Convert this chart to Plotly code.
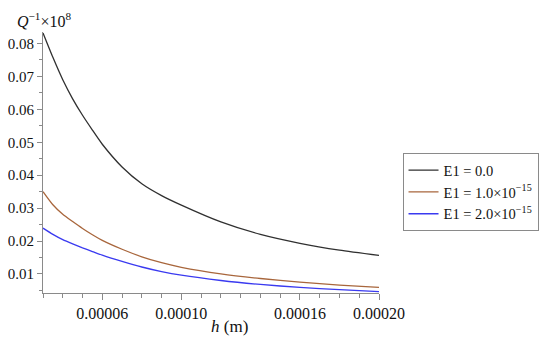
import plotly.graph_objects as go

h_vals = [3e-5, 3.5e-5, 4e-5, 4.5e-5, 5e-5, 5.5e-5, 6e-5, 7e-5, 8e-5, 9e-5, 1e-4, 1.2e-4, 1.4e-4, 1.6e-4, 1.8e-4, 2e-4]
q_e0 = [0.0832, 0.0758, 0.0690, 0.0632, 0.0582, 0.0537, 0.0494, 0.0425, 0.0374, 0.0338, 0.0309, 0.0258, 0.0220, 0.0193, 0.0172, 0.0156]
q_e1 = [0.0350, 0.0310, 0.0281, 0.0259, 0.0238, 0.0219, 0.0202, 0.0175, 0.0152, 0.0134, 0.0120, 0.0100, 0.0086, 0.0075, 0.0066, 0.0059]
q_e2 = [0.0239, 0.0220, 0.0204, 0.0191, 0.0179, 0.0168, 0.0157, 0.0138, 0.0121, 0.0107, 0.0096, 0.0080, 0.0068, 0.0059, 0.0052, 0.0046]

series_names = ["E1 = 0.0", "E1 = 1.0×10<sup>−15</sup>", "E1 = 2.0×10<sup>−15</sup>"]
series_colors = ["#303030", "#a8663c", "#3a3af0"]
x_tickvals = [0.00006, 0.00010, 0.00016, 0.00020]
x_ticktext = ["0.00006", "0.00010", "0.00016", "0.00020"]
y_tickvals = [0.01, 0.02, 0.03, 0.04, 0.05, 0.06, 0.07, 0.08]
y_ticktext = ["0.01", "0.02", "0.03", "0.04", "0.05", "0.06", "0.07", "0.08"]

FONT = "Liberation Serif, Times New Roman, serif"

fig = go.Figure()
for ys, name, col in zip([q_e0, q_e1, q_e2], series_names, series_colors):
    fig.add_trace(go.Scatter(x=h_vals, y=ys, mode="lines", name=name,
                             line=dict(color=col, width=1.3, shape="spline", smoothing=0.6)))

axis_col = "#8a8a8a"
fig.update_layout(
    width=542, height=333, autosize=False,
    margin=dict(l=35, r=171, t=24, b=48, autoexpand=False),
    paper_bgcolor="white", plot_bgcolor="white",
    font=dict(family=FONT, size=16, color="#111"),
    showlegend=True,
    legend=dict(x=1.07, y=0.536, xanchor="left", yanchor="top",
                bordercolor="#8a8a8a", borderwidth=1, bgcolor="white",
                font=dict(family=FONT, size=14.5, color="#111"),
                itemwidth=30, tracegroupgap=0),
    xaxis=dict(range=[0.00003, 0.0002], showgrid=False, zeroline=False, automargin=False,
               showline=True, linecolor=axis_col, linewidth=1,
               ticks="outside", ticklen=6, tickcolor=axis_col,
               tickvals=x_tickvals, ticktext=x_ticktext,
               tickfont=dict(family=FONT, size=16, color="#111"),
               minor=dict(dtick=0.00001, tick0=0.00003, ticks="outside", ticklen=4, tickcolor=axis_col)),
    yaxis=dict(range=[0.0042, 0.0835], showgrid=False, zeroline=False, automargin=False,
               showline=True, linecolor=axis_col, linewidth=1,
               ticks="outside", ticklen=5, tickcolor=axis_col,
               tickvals=y_tickvals, ticktext=y_ticktext,
               tickfont=dict(family=FONT, size=15, color="#111"),
               minor=dict(dtick=0.005, tick0=0.0, ticks="outside", ticklen=3, tickcolor=axis_col)),
    annotations=[
        dict(text="<i>Q</i><sup>−1</sup>×10<sup>8</sup>", xref="paper", yref="paper",
             x=-0.083, y=1.045, xanchor="left", yanchor="middle", showarrow=False,
             font=dict(family=FONT, size=16, color="#111")),
        dict(text="<i>h</i> (m)", xref="paper", yref="paper",
             x=0.554, y=-0.13, xanchor="center", yanchor="middle", showarrow=False,
             font=dict(family=FONT, size=17, color="#111")),
    ],
)

fig.write_html("out.html", config={"responsive": False})
